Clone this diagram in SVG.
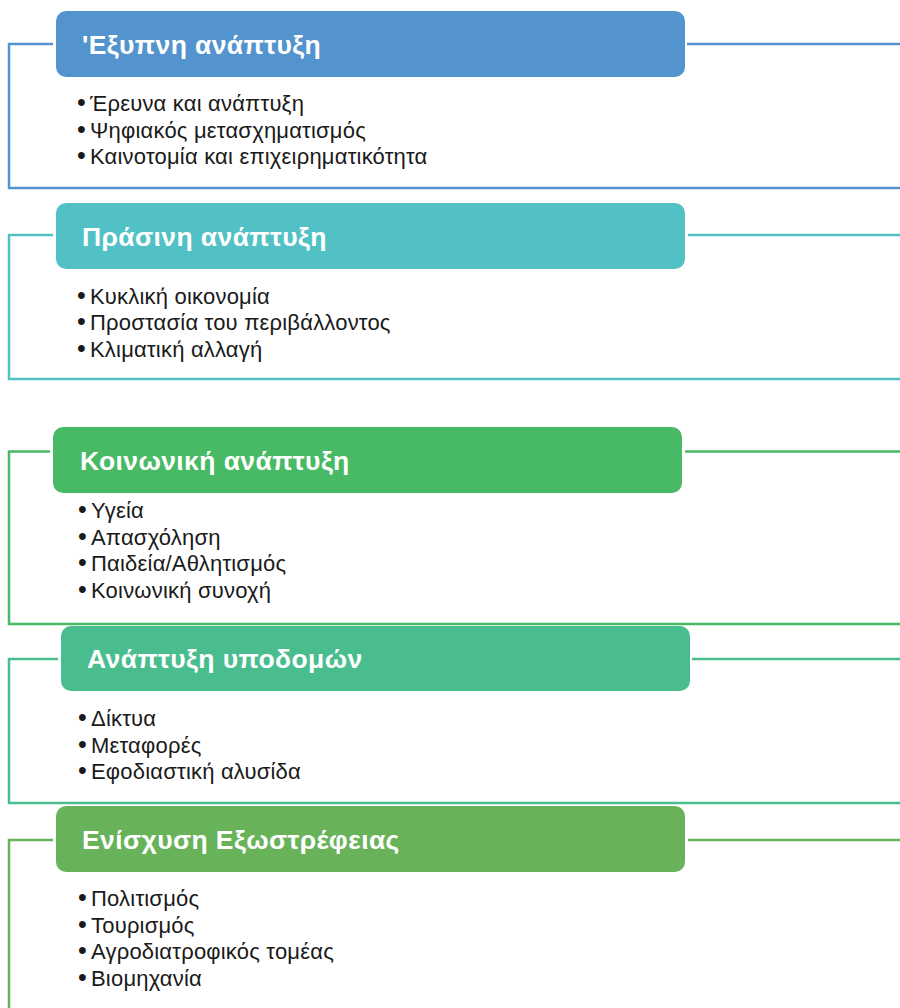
<svg xmlns="http://www.w3.org/2000/svg" width="900" height="1008" viewBox="0 0 900 1008">
<style>
.hdr{font-family:"Liberation Sans",Arial,sans-serif;font-weight:bold;font-size:26.5px;letter-spacing:0.4px;fill:#ffffff}
.itm{font-family:"Liberation Sans",Arial,sans-serif;font-size:22px;letter-spacing:0.2px;fill:#1a1a1a}
.b{font-size:25px;letter-spacing:0}
.ln{fill:none;stroke-width:2.5}
</style>
<rect width="900" height="1008" fill="#ffffff"/>
<g id="connectors">
<path class="ln" stroke="#5394CE" d="M53,44 H9 V188 H900 M687,44 H900"/>
<path class="ln" stroke="#52C1C5" d="M53,235 H9 V379 H900 M688,235 H900"/>
<path class="ln" stroke="#48B964" d="M50,451.5 H9 V624 H900 M685,451.5 H900"/>
<path class="ln" stroke="#4ABD8F" d="M58,659 H9 V803 H900 M692,659 H900"/>
<path class="ln" stroke="#68B35A" d="M53,840 H9 V1008 M688,840 H900"/>
</g>
<g id="n1">
<rect x="56" y="11" width="629" height="66" rx="10" fill="#5394CE"/>
<text class="hdr" x="82" y="54">'Εξυπνη ανάπτυξη</text>
<text class="itm" y="111"><tspan class="b" x="77">•</tspan><tspan x="90">Έρευνα και ανάπτυξη</tspan></text>
<text class="itm" y="137.5"><tspan class="b" x="77">•</tspan><tspan x="90">Ψηφιακός μετασχηματισμός</tspan></text>
<text class="itm" y="164"><tspan class="b" x="77">•</tspan><tspan x="90">Καινοτομία και επιχειρηματικότητα</tspan></text>
</g>
<g id="n2">
<rect x="56" y="203" width="629" height="66" rx="10" fill="#52C1C5"/>
<text class="hdr" x="82" y="245.5">Πράσινη ανάπτυξη</text>
<text class="itm" y="303.5"><tspan class="b" x="77">•</tspan><tspan x="90">Κυκλική οικονομία</tspan></text>
<text class="itm" y="330"><tspan class="b" x="77">•</tspan><tspan x="90">Προστασία του περιβάλλοντος</tspan></text>
<text class="itm" y="356.5"><tspan class="b" x="77">•</tspan><tspan x="90">Κλιματική αλλαγή</tspan></text>
</g>
<g id="n3">
<rect x="53" y="427" width="629" height="66" rx="10" fill="#48B964"/>
<text class="hdr" x="80" y="469.5">Κοινωνική ανάπτυξη</text>
<text class="itm" y="518"><tspan class="b" x="78">•</tspan><tspan x="91">Υγεία</tspan></text>
<text class="itm" y="544.5"><tspan class="b" x="78">•</tspan><tspan x="91">Απασχόληση</tspan></text>
<text class="itm" y="571"><tspan class="b" x="78">•</tspan><tspan x="91">Παιδεία/Αθλητισμός</tspan></text>
<text class="itm" y="597.5"><tspan class="b" x="78">•</tspan><tspan x="91">Κοινωνική συνοχή</tspan></text>
</g>
<g id="n4">
<rect x="61" y="626" width="629" height="65" rx="10" fill="#4ABD8F"/>
<text class="hdr" x="87" y="668">Ανάπτυξη υποδομών</text>
<text class="itm" y="726"><tspan class="b" x="78">•</tspan><tspan x="91">Δίκτυα</tspan></text>
<text class="itm" y="752.5"><tspan class="b" x="78">•</tspan><tspan x="91">Μεταφορές</tspan></text>
<text class="itm" y="779"><tspan class="b" x="78">•</tspan><tspan x="91">Εφοδιαστική αλυσίδα</tspan></text>
</g>
<g id="n5">
<rect x="56" y="806" width="629" height="66" rx="10" fill="#68B35A"/>
<text class="hdr" x="82" y="848.5">Ενίσχυση Εξωστρέφειας</text>
<text class="itm" y="906"><tspan class="b" x="78">•</tspan><tspan x="91">Πολιτισμός</tspan></text>
<text class="itm" y="932.5"><tspan class="b" x="78">•</tspan><tspan x="91">Τουρισμός</tspan></text>
<text class="itm" y="959"><tspan class="b" x="78">•</tspan><tspan x="91">Αγροδιατροφικός τομέας</tspan></text>
<text class="itm" y="985.5"><tspan class="b" x="78">•</tspan><tspan x="91">Βιομηχανία</tspan></text>
</g>
</svg>
